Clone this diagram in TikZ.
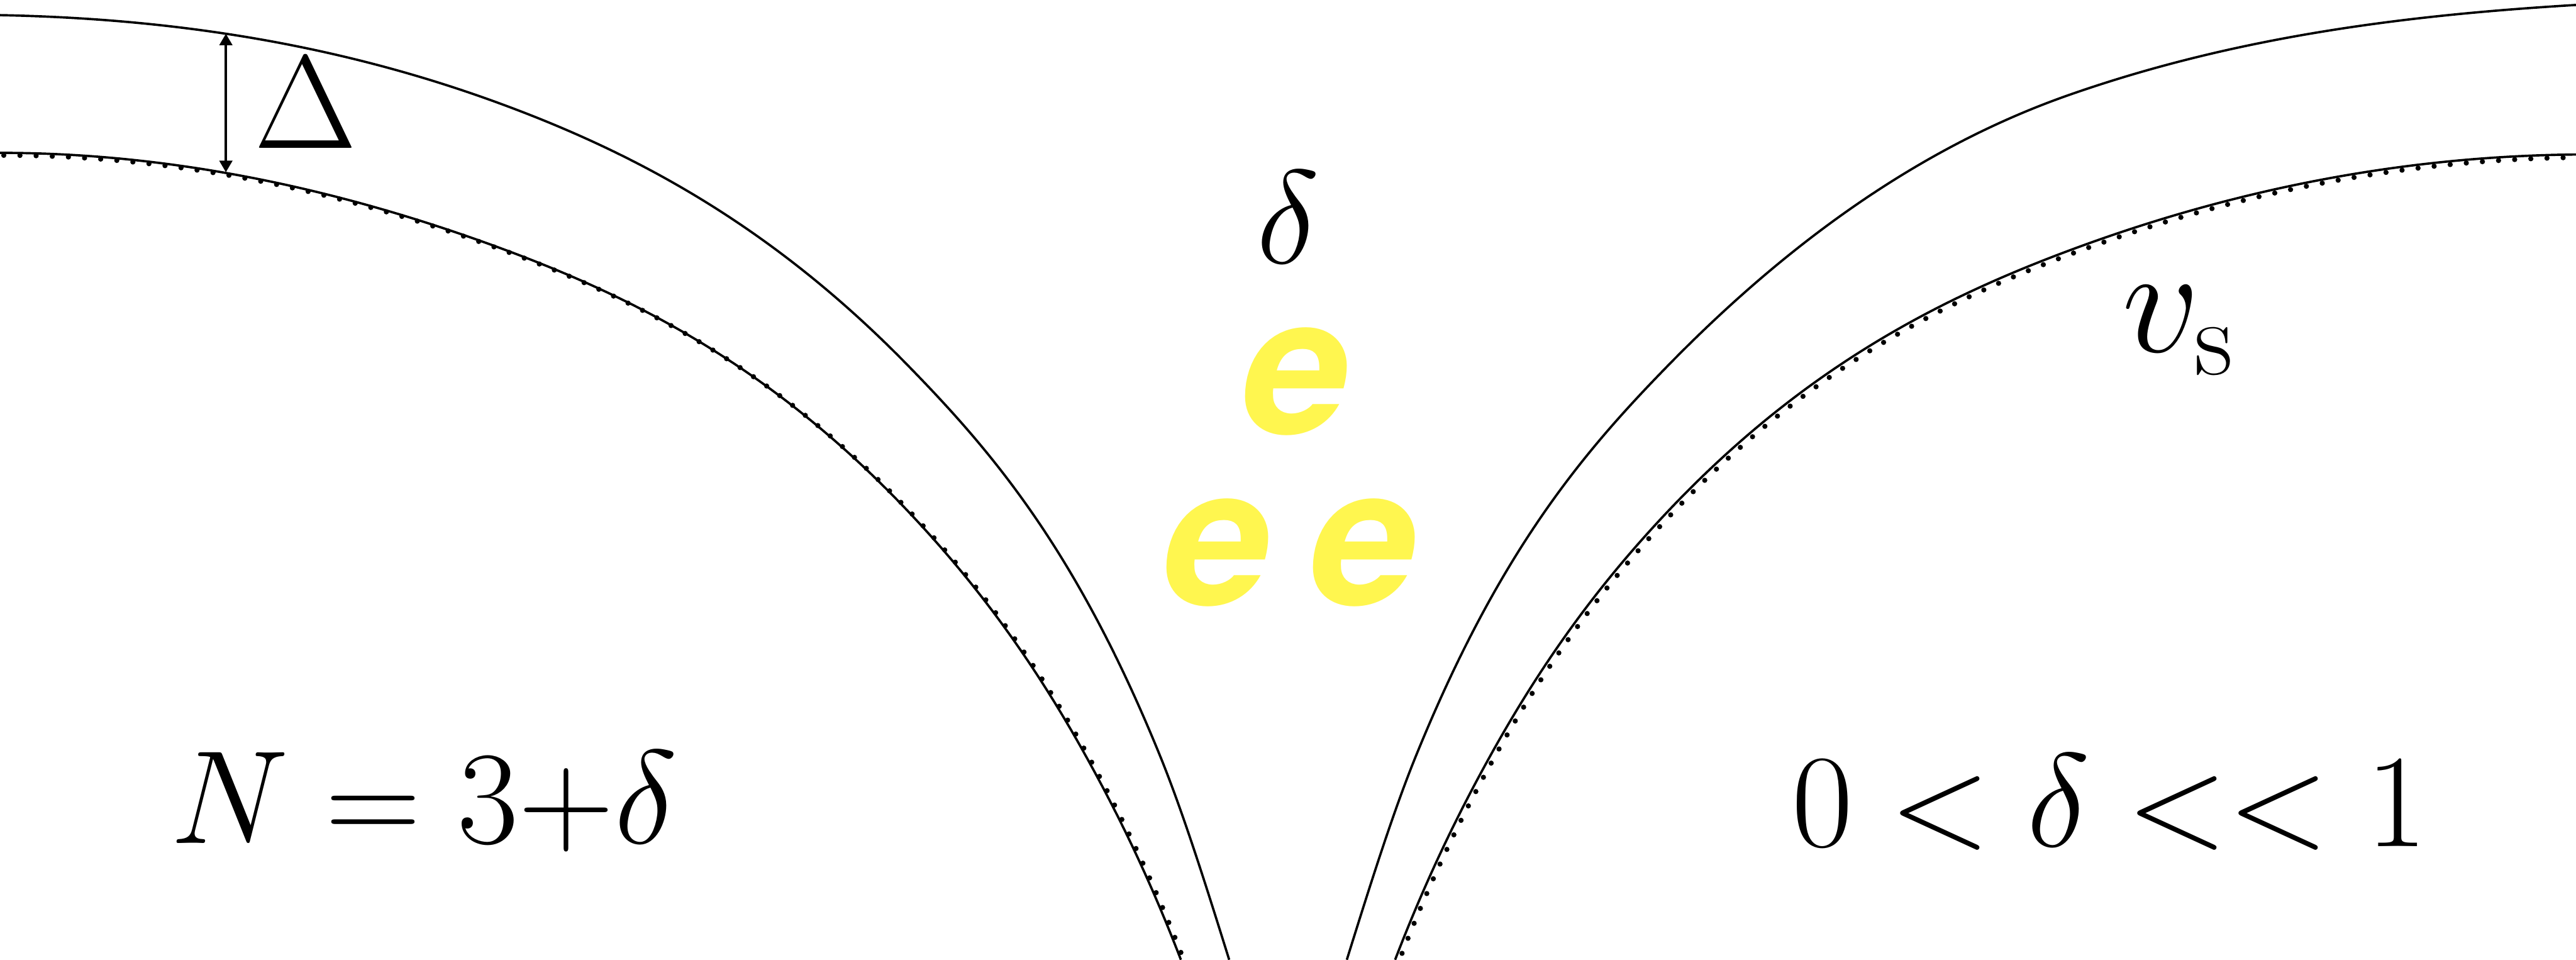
\RequirePackage{fix-cm}
\documentclass[tikz,border=0pt]{standalone}
\usepackage[no-math]{fontspec}
\usepackage{amsmath}
\usetikzlibrary{arrows.meta}
\newfontfamily\heros{TeX Gyre Heros}
\definecolor{eyellow}{RGB}{255,246,79}
\tikzset{
  wall/.style={line width=0.4pt},
  dotwall/.style={line width=0.9pt,dash pattern=on 0pt off 2.8pt,line cap=round},
  lbl/.style={inner sep=0pt,font=\fontsize{23}{28}\selectfont},
  elec/.style={inner sep=0pt,text=eyellow,font=\heros\bfseries\itshape\fontsize{33.5}{40}\selectfont},
  gaptip/.style={{Triangle[length=2pt,width=2.2pt]}-{Triangle[length=2pt,width=2.2pt]},line width=0.43pt}
}

\begin{document}
\begin{tikzpicture}[x=0.1mm,y=-0.1mm]
\path[use as bounding box,clip] (0,0) rectangle (1568,584);
\draw[wall] (0,9.2) .. controls (102.1,11.2) and (204.2,25.9) .. (306.3,63.7)
  .. controls (388,93.9) and (469.6,137.7) .. (551.3,221)
  .. controls (602.8,273.6) and (654.4,333.1) .. (705.9,459.4)
  .. controls (720,493.9) and (734.1,538.9) .. (748.2,584);
\draw[wall] (0,93) .. controls (102.1,93) and (204.2,113.8) .. (306.3,151.6)
  .. controls (388,181.8) and (469.6,223.8) .. (551.3,309.6)
  .. controls (587.7,347.9) and (624.2,393.8) .. (660.6,459.4)
  .. controls (680,494.3) and (699.4,533.6) .. (718.8,584);
\draw[dotwall,shift={(2.3,1.5)}] (0,93) .. controls (102.1,93) and (204.2,113.8) .. (306.3,151.6)
  .. controls (388,181.8) and (469.6,223.8) .. (551.3,309.6)
  .. controls (587.7,347.9) and (624.2,393.8) .. (660.6,459.4)
  .. controls (680,494.3) and (699.4,533.6) .. (718.8,584);
\draw[wall] (1568,3) .. controls (1465.1,9.2) and (1362.2,21.8) .. (1259.3,57.8)
  .. controls (1178.4,86.1) and (1097.6,138.5) .. (1016.7,221)
  .. controls (965.2,273.6) and (913.6,333.1) .. (862.1,459.4)
  .. controls (848,493.9) and (833.9,538.9) .. (819.8,584);
\draw[wall] (1568,94) .. controls (1465.9,95) and (1363.8,113.8) .. (1261.7,151.6)
  .. controls (1180,181.8) and (1098.4,223.8) .. (1016.7,309.6)
  .. controls (980.3,347.9) and (943.8,393.8) .. (907.4,459.4)
  .. controls (888,494.3) and (868.6,533.6) .. (849.2,584);
\draw[dotwall,shift={(2,1.8)}] (1568,94) .. controls (1465.9,95) and (1363.8,113.8) .. (1261.7,151.6)
  .. controls (1180,181.8) and (1098.4,223.8) .. (1016.7,309.6)
  .. controls (980.3,347.9) and (943.8,393.8) .. (907.4,459.4)
  .. controls (888,494.3) and (868.6,533.6) .. (849.2,584);

\coordinate (gtop) at (137.5,20.5);
\coordinate (gbot) at (137.5,104.8);
\draw[gaptip] (gtop) -- (gbot);
\node[lbl,anchor=base] (gaplab) at (186,90.3) {$\Delta$};

\node[lbl,anchor=base] (dmid) at (784,160) {$\delta$};
\node[elec,anchor=base] (etop) at (788,264) {e};
\node[elec,anchor=base] (eleft) at (740,368) {e};
\node[elec,anchor=base] (eright) at (829,368) {e};
\node[lbl,anchor=base west,font=\fontsize{26.5}{32}\selectfont] (vslab) at (1291,214) {$v_{\mathrm{s}}$};
\node[lbl,anchor=base] (nlab) at (258,513) {$N = 3{+}\delta$};
\node[lbl,anchor=base] (dlab) at (1284,515) {$0<\delta<<1$};
\end{tikzpicture}
\end{document}
